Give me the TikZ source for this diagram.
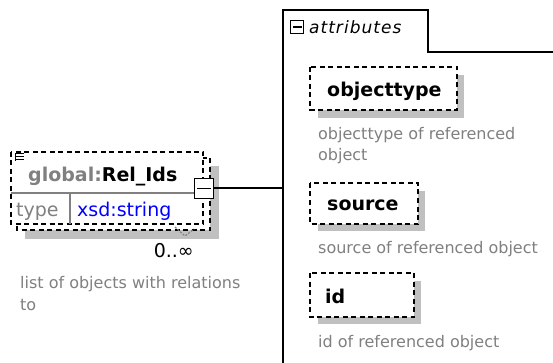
\documentclass[tikz,border=0pt]{standalone}
\usepackage{fontspec}
\setmainfont{DejaVu Sans}
\newfontfamily\attrfont{DejaVu Sans}[LetterSpace=6]
\definecolor{shade}{HTML}{C0C0C0}
\definecolor{txtgray}{HTML}{808080}
\definecolor{xsdblue}{HTML}{0000FF}
\tikzset{
  dashbox/.style={draw=black, fill=white, line width=1.6pt, dash pattern=on 5pt off 3.5pt},
  shadowbox/.style={fill=shade, draw=none},
  txt/.style={inner sep=0pt, anchor=base west},
  bigbold/.style={txt, font=\fontsize{19}{22}\selectfont\bfseries},
  bigreg/.style={txt, font=\fontsize{19}{22}\selectfont},
  desc/.style={txt, font=\fontsize{16}{19}\selectfont, text=txtgray},
  panel/.style={line width=2pt, draw=black},
  connector/.style={line width=2pt, draw=black}
}
\begin{document}
\begin{tikzpicture}[x=1pt,y=-1pt]
\useasboundingbox (0,0) rectangle (553,363);
\fill[white] (0,0) rectangle (553,363);

% ---------- main element ----------
\fill[shadowbox] (25,166) rectangle (219,239);
\draw[dashbox] (17,158) rectangle (210,230);
\draw[dashbox] (11,152) rectangle (203,224);
\draw[txtgray, line width=1.2pt] (11,193) -- (203,193);
\draw[txtgray, line width=1.2pt] (70,193) -- (70,224);
% annotation icon
\draw[black, line width=1pt] (16,154) -- (24,154) (16,157) -- (24,157) (16,160) -- (24,160);
\draw[black, line width=1pt] (15,153) -- (15,161);
% occurrence chevron
\draw[txtgray, line width=1.2pt, dash pattern=on 2pt off 1.5pt] (175,227) -- (185,236) -- (194,229);

\node[bigbold] (title) at (28,182) {\textcolor{txtgray}{global:}Rel\_Ids};
\node[bigreg, text=txtgray] (typelbl) at (16,216) {type};
\node[bigreg, text=xsdblue] (typeval) at (77,216) {xsd:string};
\node[bigreg, anchor=base east] (occ) at (194,257) {0..∞};
\node[desc] (d1) at (20,288) {list of objects with relations};
\node[desc] (d2) at (20,310) {to};

% collapse square
\node[draw=black, fill=white, line width=1.8pt, minimum width=19pt, minimum height=20pt, inner sep=0pt] (sq) at (204,188.5) {};
\draw[black, line width=1.6pt] (197,188.5) -- (211,188.5);

% ---------- attributes panel ----------
\draw[panel] (283,363) -- (283,10) -- (428,10) -- (428,52) -- (553,52);
\node[draw=black, line width=1.4pt, minimum width=13pt, minimum height=13pt, inner sep=0pt] (minus) at (297,27) {};
\draw[black, line width=1.4pt] (292.5,27) -- (301.5,27);
\node[txt, font=\fontsize{17}{20}\selectfont\attrfont\itshape] (attr) at (309,34) {attributes};

\coordinate (join) at (283,188.5);
\draw[connector] (sq.east) -- (join);

% objecttype
\fill[shadowbox] (318,75) rectangle (464,118);
\draw[dashbox] (310,67) rectangle (457,110);
\node[bigbold] (ot) at (327,97) {objecttype};
\node[desc] (otd1) at (318,140) {objecttype of referenced};
\node[desc] (otd2) at (318,161) {object};

% source
\fill[shadowbox] (318,191) rectangle (425,231);
\draw[dashbox] (310,183) rectangle (418,224);
\node[bigbold] (src) at (327,210) {source};
\node[desc] (srcd) at (318,253) {source of referenced object};

% id
\fill[shadowbox] (318,281) rectangle (421,324);
\draw[dashbox] (310,273) rectangle (414,317);
\node[bigbold] (id) at (325,303) {id};
\node[desc] (idd) at (318,347) {id of referenced object};
\end{tikzpicture}
\end{document}
